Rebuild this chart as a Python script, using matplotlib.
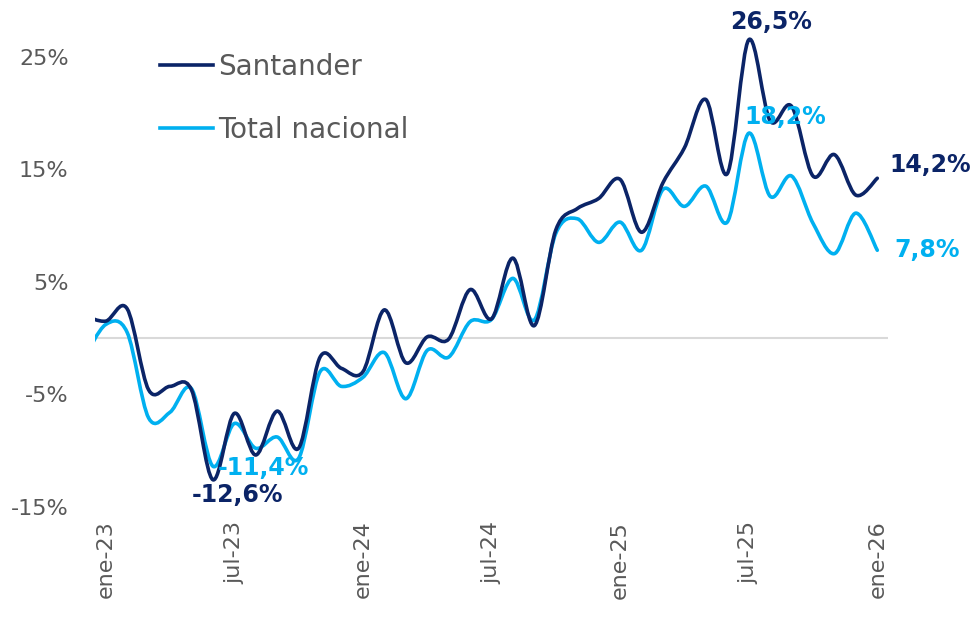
import matplotlib
matplotlib.use("Agg")
import matplotlib.pyplot as plt
from matplotlib.path import Path
from matplotlib.patches import PathPatch
from matplotlib.lines import Line2D
import numpy as np

# variacion interanual (%), dic-22 a ene-26
meses = ["dic-22",
         "ene-23", "feb-23", "mar-23", "abr-23", "may-23", "jun-23",
         "jul-23", "ago-23", "sep-23", "oct-23", "nov-23", "dic-23",
         "ene-24", "feb-24", "mar-24", "abr-24", "may-24", "jun-24",
         "jul-24", "ago-24", "sep-24", "oct-24", "nov-24", "dic-24",
         "ene-25", "feb-25", "mar-25", "abr-25", "may-25", "jun-25",
         "jul-25", "ago-25", "sep-25", "oct-25", "nov-25", "dic-25",
         "ene-26"]
santander = [2.0,
             1.5, 2.6, -4.6, -4.3, -4.6, -12.6,
             -6.7, -10.4, -6.5, -9.8, -1.7, -2.7,
             -3.0, 2.5, -2.2, 0.1, -0.1, 4.3,
             1.7, 7.1, 1.1, 9.6, 11.5, 12.4,
             14.1, 9.4, 13.8, 16.9, 21.2, 14.6,
             26.5, 19.3, 20.6, 14.4, 16.3, 12.7,
             14.2]
total_nacional = [-1.8,
                  1.2, 0.5, -7.1, -6.6, -4.5, -11.4,
                  -7.6, -9.8, -8.8, -10.7, -3.0, -4.3,
                  -3.5, -1.3, -5.4, -1.1, -1.7, 1.45,
                  1.65, 5.3, 1.6, 9.3, 10.6, 8.5,
                  10.3, 7.8, 13.2, 11.7, 13.5, 10.3,
                  18.2, 12.6, 14.4, 10.2, 7.5, 11.1,
                  7.8]
etiquetas_x = ["ene-23", "jul-23", "ene-24", "jul-24", "ene-25", "jul-25", "ene-26"]
ticks_y = [-15, -5, 5, 15, 25]

AZUL_OSCURO = "#0B2467"
AZUL_CLARO = "#00B0F0"
GRIS = "#595959"


def curva_suave(x, y):
    # linea suavizada al estilo Excel (bezier tipo Catmull-Rom)
    pts = np.column_stack([np.asarray(x, float), np.asarray(y, float)])
    n = len(pts)
    verts = [pts[0]]
    codes = [Path.MOVETO]
    for i in range(n - 1):
        p0 = pts[max(i - 1, 0)]
        p1 = pts[i]
        p2 = pts[i + 1]
        p3 = pts[min(i + 2, n - 1)]
        verts += [p1 + (p2 - p0) / 6, p2 - (p3 - p1) / 6, p2]
        codes += [Path.CURVE4] * 3
    return Path(verts, codes)


x = np.arange(len(meses)) - 1   # ene-23 -> 0

fig = plt.figure(figsize=(9.79, 6.17), dpi=100)
ax = fig.add_axes([95 / 979, 1 - 506.75 / 617, (888 - 95) / 979, 506.25 / 617])

ax.axhline(0, color="#D9D9D9", lw=1.5, zorder=1)

for serie, color in [(total_nacional, AZUL_CLARO), (santander, AZUL_OSCURO)]:
    ax.add_patch(PathPatch(curva_suave(x, serie), facecolor="none",
                           edgecolor=color, lw=2.6, capstyle="round",
                           joinstyle="round", zorder=3))

ax.set_xlim(-0.5, 36.5)
ax.set_ylim(-15, 30)

pos_x = [meses.index(m) - 1 for m in etiquetas_x]
ax.set_xticks(pos_x)
ax.set_xticklabels(etiquetas_x, rotation=90, fontsize=16, color=GRIS)
ax.set_yticks(ticks_y)
ax.set_yticklabels([f"{v}%" for v in ticks_y], fontsize=16, color=GRIS)
ax.tick_params(axis="both", length=0)
ax.tick_params(axis="y", pad=19)
ax.tick_params(axis="x", pad=10)
for s in ax.spines.values():
    s.set_visible(False)

# etiquetas de datos
def etiqueta(mes, serie, texto, color, dx, dy, ha="center"):
    i = meses.index(mes)
    ax.annotate(texto, (x[i], serie[i]), xytext=(dx, dy),
                textcoords="offset pixels", ha=ha, va="center",
                fontsize=17, fontweight="bold", color=color, zorder=5)

etiqueta("jul-25", santander, "26,5%", AZUL_OSCURO, 22, 18)
etiqueta("jul-25", total_nacional, "18,2%", AZUL_CLARO, 37, 16)
etiqueta("ene-26", santander, "14,2%", AZUL_OSCURO, 12, 13, ha="left")
etiqueta("ene-26", total_nacional, "7,8%", AZUL_CLARO, 17, 0, ha="left")
etiqueta("jun-23", santander, "-12,6%", AZUL_OSCURO, 25, -15)
etiqueta("jun-23", total_nacional, "-11,4%", AZUL_CLARO, 51, -2)

handles = [Line2D([], [], color=AZUL_OSCURO, lw=2.6),
           Line2D([], [], color=AZUL_CLARO, lw=2.6)]
leg = fig.legend(handles, ["Santander", "Total nacional"], loc="upper left",
                 bbox_to_anchor=(160 / 979, 1 - 53 / 617), frameon=False,
                 fontsize=20, handlelength=1.9, handletextpad=0.2,
                 labelspacing=1.25, borderpad=0, borderaxespad=0)
for t in leg.get_texts():
    t.set_color(GRIS)

fig.savefig("out.png", dpi=100)
